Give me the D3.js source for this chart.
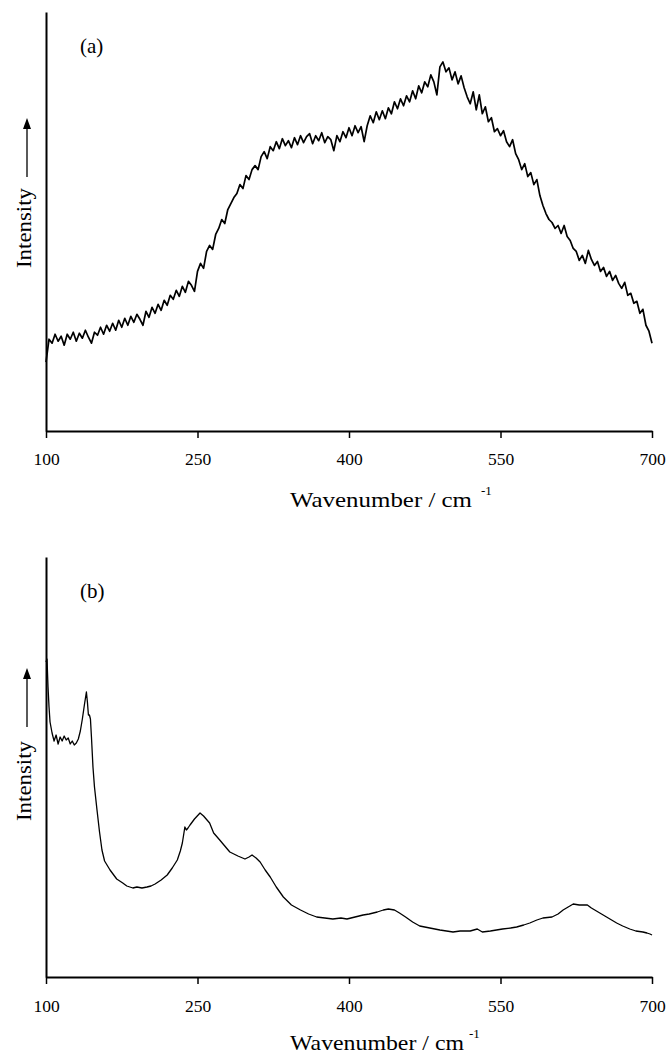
<!DOCTYPE html>
<html>
<head>
<meta charset="utf-8">
<script src="https://cdn.jsdelivr.net/npm/d3@7"></script>
<style>
  html, body { margin: 0; padding: 0; background: #fff; }
  svg { display: block; }
  text { font-family: "Liberation Serif", "Times New Roman", serif; fill: #000; }
</style>
</head>
<body>
<svg id="chart" width="666" height="1055"></svg>
<script>
// ---------- data ----------
// x tick labels (wavenumber, cm^-1)
const xTicks = [100, 250, 400, 550, 700];

// panel (a): noisy spectrum sampled every 3 cm^-1 from 100 to 700 (arbitrary intensity units)
const specAStart = 100, specAStep = 3;
const specAIntensity = [
  69, 92, 88, 97, 90, 95, 86, 97, 92, 99,
  90, 98, 93, 101, 94, 88, 99, 96, 104, 97,
  106, 100, 108, 101, 111, 104, 113, 106, 115, 109,
  117, 112, 106, 120, 114, 124, 118, 127, 121, 131,
  126, 136, 132, 141, 135, 145, 139, 150, 146, 140,
  160, 168, 163, 180, 186, 182, 197, 203, 212, 208,
  222, 228, 234, 238, 247, 243, 256, 252, 262, 266,
  262, 275, 280, 273, 285, 281, 290, 283, 293, 286,
  291, 284, 294, 287, 296, 289, 295, 298, 288, 296,
  291, 299, 289, 295, 292, 281, 296, 290, 300, 294,
  304, 296, 306, 299, 305, 290, 306, 316, 309, 320,
  312, 321, 313, 324, 318, 330, 323, 333, 326, 336,
  330, 341, 333, 346, 339, 350, 345, 357, 350, 337,
  365, 370, 360, 364, 352, 360, 348, 356, 344, 335,
  328, 340, 322, 337, 318, 325, 310, 314, 300, 303,
  296, 301, 290, 285, 292, 278, 272, 262, 268, 255,
  259, 247, 252, 236, 226, 218, 212, 209, 203, 206,
  198, 206, 195, 191, 183, 180, 171, 176, 168, 181,
  172, 166, 170, 160, 164, 155, 160, 151, 156, 148,
  143, 149, 136, 138, 128, 130, 118, 122, 106, 100,
  88
];

// panel (b): smooth spectrum (wavenumber, intensity)
const specBWavenumber = [
  100, 101, 102, 103, 104, 106, 108, 110, 112, 114, 116, 118, 120, 122, 124, 126, 128, 130,
  132, 134, 136, 138, 140, 141, 142, 143, 144, 145, 146.5, 148, 150.5, 153, 155.4, 158, 163.4,
  170, 176, 180, 186, 190, 195, 200, 204, 208, 214, 220, 225, 230, 233, 235, 237.5, 239, 240.6,
  242.6, 247, 252.5, 256, 262, 266, 272, 277, 282, 290, 297, 301, 304, 308, 312, 317, 322, 328,
  335, 343, 352, 360, 368, 376, 384, 392, 398, 406, 414, 420, 428, 434, 439, 445, 450, 456, 463,
  470, 480, 490, 503, 510, 520, 527, 532, 540, 552, 560, 566, 573, 579, 586, 592, 601, 607, 612,
  617, 622, 628, 636, 640, 645, 650, 655, 660, 665, 671, 678, 684, 691, 695, 698, 700
];
const specBIntensity = [
  315, 318, 290, 270, 255, 244, 236, 242, 233, 240, 236, 241, 237, 239, 233, 236, 232, 234,
  238, 246, 258, 272, 285, 275, 262, 262, 258, 240, 210, 190, 167, 145, 127, 116, 107,
  98, 94, 91, 89, 90, 89, 90, 91, 93, 97, 102, 109, 117, 126, 134, 150, 147, 149,
  152, 158, 164, 161, 154, 144, 137, 131, 125, 121, 118, 120, 122, 119, 115, 107, 100, 90,
  80, 72, 67, 63, 60, 59, 58, 59, 58, 60, 62, 63, 65, 67, 68, 67, 64, 60, 55,
  51, 49, 47, 45, 46, 46, 48, 45, 46, 48, 49, 50, 52, 54, 57, 59, 60, 63, 67,
  70, 73, 72, 72, 69, 66, 63, 60, 57, 54, 51, 48, 46, 45, 44, 43, 42
];

const panelLabels = ["(a)", "(b)"];
const xTitle = "Wavenumber / cm";
const xTitleSup = "-1";
const yTitle = "Intensity";

// ---------- layout ----------
const svg = d3.select("#chart");
const panels = [
  { top: 12, bottom: 431, tickPad: 15, titleY: 507, titleW: 182, supX: 481, arrow: [177, 118], yTitleMid: 228,
    data: specAIntensity.map((v, i) => ({ x: specAStart + i * specAStep, y: v })), sw: 1.7, label: panelLabels[0] },
  { top: 557, bottom: 977, tickPad: 16, titleY: 1050, titleW: 174, supX: 469, arrow: [727, 668], yTitleMid: 781,
    data: specBWavenumber.map((w, i) => ({ x: w, y: specBIntensity[i] })), sw: 1.3, label: panelLabels[1] }
];
const left = 46, right = 652;

const x = d3.scaleLinear().domain([100, 700]).range([left, right]);

panels.forEach(p => {
  const y = d3.scaleLinear().domain([0, 420]).range([p.bottom, p.top]);
  const g = svg.append("g");

  // line
  const line = d3.line().x(d => x(d.x)).y(d => y(d.y)).curve(d3.curveLinear);
  g.append("path").datum(p.data)
    .attr("d", line).attr("fill", "none").attr("stroke", "#000")
    .attr("stroke-width", p.sw).attr("stroke-linejoin", "round");

  // x axis
  const xa = g.append("g").attr("transform", `translate(0,${p.bottom})`)
    .call(d3.axisBottom(x).tickValues(xTicks).tickSize(7).tickSizeOuter(0).tickPadding(p.tickPad));
  xa.select(".domain").attr("stroke-width", 2);
  xa.selectAll(".tick line").attr("stroke-width", 1.5);
  xa.selectAll(".tick text").style("font-family", '"Liberation Serif", serif').style("font-size", "17.5px");

  // y axis
  const ya = g.append("g").attr("transform", `translate(${left},0)`)
    .call(d3.axisLeft(y).tickValues([]).tickSizeOuter(0));
  ya.select(".domain").attr("stroke-width", 2);

  // x title
  g.append("text").attr("x", 290).attr("y", p.titleY)
    .style("font-size", "21px")
    .attr("textLength", p.titleW).attr("lengthAdjust", "spacingAndGlyphs")
    .text(xTitle);
  g.append("text").attr("x", p.supX).attr("y", p.titleY - 12)
    .style("font-size", "13px").text(xTitleSup);

  // y title (rotated) with arrow
  g.append("text")
    .attr("transform", `translate(31,${p.yTitleMid}) rotate(-90)`)
    .attr("text-anchor", "middle")
    .style("font-size", "21px")
    .attr("textLength", 80).attr("lengthAdjust", "spacingAndGlyphs")
    .text(yTitle);
  const ax = 27, y0 = p.arrow[0], y1 = p.arrow[1];
  g.append("line").attr("x1", ax).attr("x2", ax).attr("y1", y0).attr("y2", y1 + 8)
    .attr("stroke", "#000").attr("stroke-width", 1.3);
  g.append("path").attr("d", `M${ax},${y1} L${ax - 4},${y1 + 11} L${ax + 4},${y1 + 11} Z`).attr("fill", "#000");

  // panel label
  g.append("text").attr("x", 80).attr("y", p.top + 41)
    .style("font-size", "21px").text(p.label);
});
</script>
</body>
</html>
